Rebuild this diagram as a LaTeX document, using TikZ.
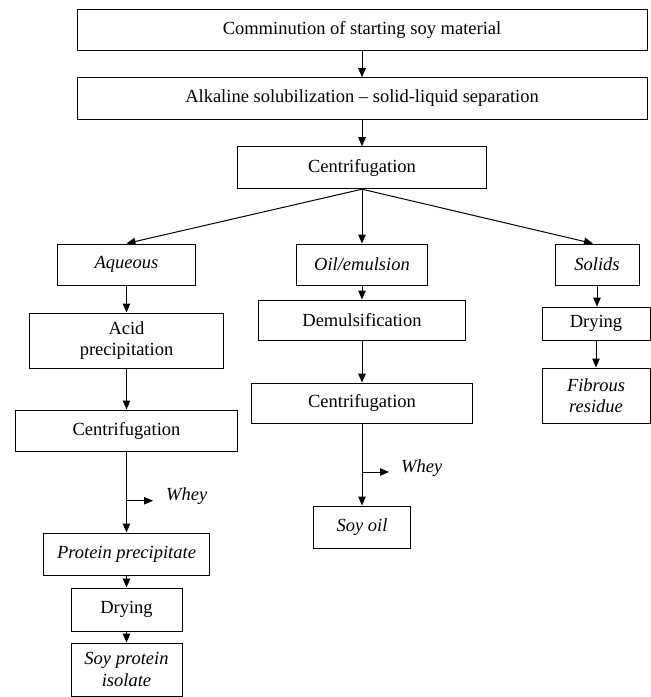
\documentclass[tikz,border=0pt]{standalone}
\usepackage{fontspec}
\setmainfont{Liberation Serif}
\usetikzlibrary{arrows.meta}
\tikzset{
  box/.style={draw, line width=1pt, inner sep=0pt, align=center, font=\fontsize{18.5}{21.5}\selectfont},
  ibox/.style={box, font=\fontsize{18.5}{21.5}\selectfont\itshape},
  arr/.style={line width=1pt, -{Triangle[length=9pt,width=7.5pt]}},
  lbl/.style={font=\fontsize{18.5}{21.5}\selectfont\itshape, inner sep=0pt, anchor=west}
}
\begin{document}
\begin{tikzpicture}[x=1pt,y=-1pt]
\useasboundingbox (0,0) rectangle (651,697);
% top
\node[box, minimum width=570pt, minimum height=41pt] (b1) at (362,30) {Comminution of starting soy material};
\node[box, minimum width=570pt, minimum height=41.6pt] (b2) at (362,98.5) {Alkaline solubilization -- solid-liquid separation};
\node[box, minimum width=249pt, minimum height=42pt] (b3) at (362,167.7) {Centrifugation};
% second row
\node[ibox, minimum width=138pt, minimum height=41pt] (aq) at (126.5,264.5) {Aqueous};
\node[ibox, minimum width=131pt, minimum height=41pt] (oil) at (362,264.5) {Oil/emulsion};
\node[ibox, minimum width=84pt, minimum height=41pt] (sol) at (597,264.5) {Solids};
% left column
\node[box, minimum width=194pt, minimum height=55pt] (acid) at (126.5,340.5) {Acid\\precipitation};
\node[box, minimum width=222.5pt, minimum height=41pt] (cenL) at (126.5,430.5) {Centrifugation};
\node[ibox, minimum width=166pt, minimum height=42pt] (prot) at (126.5,554) {Protein precipitate};
\node[box, minimum width=111pt, minimum height=43pt] (dryL) at (126.5,609.5) {Drying};
\node[ibox, minimum width=111pt, minimum height=53pt] (spi) at (126.5,669.5) {Soy protein\\isolate};
% middle column
\node[box, minimum width=207.5pt, minimum height=40pt] (dem) at (362,320) {Demulsification};
\node[box, minimum width=221pt, minimum height=40pt] (cenM) at (362,403) {Centrifugation};
\node[ibox, minimum width=97pt, minimum height=42pt] (soil) at (362,527) {Soy oil};
% right column
\node[box, minimum width=108pt, minimum height=33pt] (dryR) at (596,323.5) {Drying};
\node[ibox, minimum width=108pt, minimum height=55pt] (fib) at (596,395.5) {Fibrous\\residue};
% whey branches
\coordinate (wl1) at (126.5,500.7);
\coordinate (wl2) at (153,500.7);
\node[lbl] (whL) at (166,496) {Whey};
\coordinate (wm1) at (362,472);
\coordinate (wm2) at (389,472);
\node[lbl] (whM) at (401,468) {Whey};
% connectors
\draw[arr] (b1) -- (b2);
\draw[arr] (b2) -- (b3);
\draw[arr] (b3.south) -- (aq.north);
\draw[arr] (b3.south) -- (oil.north);
\draw[arr] (b3.south) -- ([xshift=-4pt]sol.north);
\draw[arr] (aq) -- (acid);
\draw[arr] (acid) -- (cenL);
\draw[arr] (cenL) -- (prot);
\draw[arr] (wl1) -- (wl2);
\draw[arr] (prot) -- (dryL);
\draw[arr] (dryL) -- (spi);
\draw[arr] (oil) -- (dem);
\draw[arr] (dem) -- (cenM);
\draw[arr] (cenM) -- (soil);
\draw[arr] (wm1) -- (wm2);
\draw[arr] (sol.south) -- (sol.south |- dryR.north);
\draw[arr] (dryR) -- (fib);
\end{tikzpicture}
\end{document}
